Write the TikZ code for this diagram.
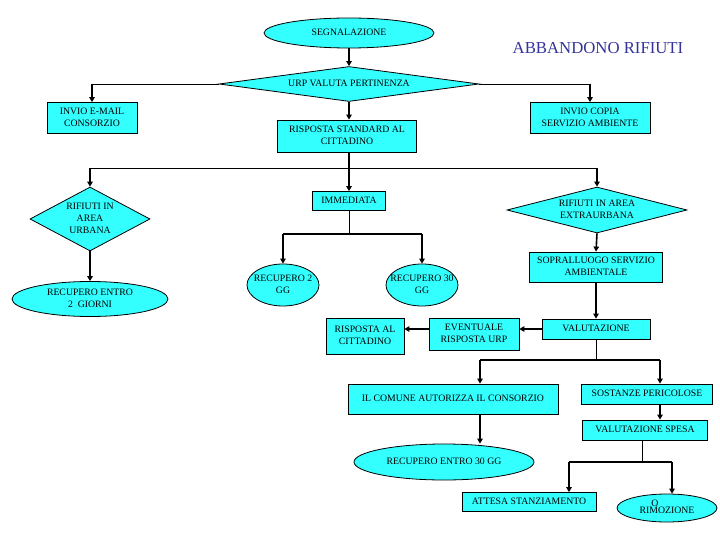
\documentclass[tikz,border=0pt]{standalone}
\usepackage{fontspec}
\setmainfont{Liberation Serif}
\usepackage{xcolor}
\usetikzlibrary{shapes,arrows.meta,positioning,calc}

\definecolor{boxcyan}{RGB}{51,255,255}
\definecolor{titleblue}{RGB}{51,51,153}
\newcommand{\rows}[1]{\makebox[0pt]{\begin{tabular}{@{}c@{}}#1\end{tabular}}}

\begin{document}
\begin{tikzpicture}[x=1bp,y=-1bp,
        box/.style={draw,line width=0.8bp,fill=boxcyan,rectangle,inner sep=0pt,
            font=\fontsize{9.8}{12}\selectfont},
        oval/.style={box,ellipse},
        choice/.style={box,diamond},
        link/.style={line width=0.8bp},
        bar/.style={line width=1.6bp},
        flow/.style={line width=1.6bp,-{Triangle[length=5bp,width=5.5bp]}}]

        \useasboundingbox (0,0) rectangle (720,540);

        %%top
        \node[oval,minimum width=170bp,minimum height=30bp] (seg) at (349,33){\rows{SEGNALAZIONE}};
        \node[text=titleblue,font=\fontsize{16.8}{20}\selectfont] (title) at (598,48){ABBANDONO RIFIUTI};
        \node[choice,minimum width=260bp,minimum height=35bp] (urp) at (349,84){\rows{URP VALUTA PERTINENZA}};
        \node[box,minimum width=90bp,minimum height=31bp] (mail) at (92,118){\rows{INVIO E-MAIL\\CONSORZIO}};
        \node[box,minimum width=120bp,minimum height=31bp] (copia) at (590,118){\rows{INVIO COPIA\\SERVIZIO AMBIENTE}};
        \node[box,minimum width=139bp,minimum height=32bp] (std) at (347,136){\rows{RISPOSTA STANDARD AL\\CITTADINO}};

            \draw[flow] (seg.south) -- (urp.north);
            \coordinate (ml) at (urp.west -| mail.north);
            \coordinate (mr) at (urp.east -| copia.north);
            \draw[link] (urp.west) -- (ml);
            \draw[flow] (ml) -- (mail.north);
            \draw[link] (urp.east) -- (mr);
            \draw[flow] (mr) -- (copia.north);
            \draw[flow] (urp.south) -- (urp.south |- std.north);

        %%middle
        \node[choice,minimum width=120bp,minimum height=64bp] (urbana) at (90,219){\rows{RIFIUTI IN\\AREA\\URBANA}};
        \node[oval,minimum width=156bp,minimum height=35bp] (rec2g) at (90,299){\rows{RECUPERO ENTRO\\2~ GIORNI}};
        \node[box,minimum width=73bp,minimum height=19bp] (imm) at (349,201){\rows{IMMEDIATA}};
        \node[oval,minimum width=72bp,minimum height=42bp] (r2) at (283,285){\rows{RECUPERO 2\\GG}};
        \node[oval,minimum width=72bp,minimum height=42bp] (r30) at (422,285){\rows{RECUPERO 30\\GG}};
        \node[choice,minimum width=180bp,minimum height=46bp] (extra) at (597,210){\rows{RIFIUTI IN AREA\\EXTRAURBANA}};
        \node[box,minimum width=133bp,minimum height=30bp] (sopr) at (596,267){\rows{SOPRALLUOGO SERVIZIO\\AMBIENTALE}};

            \coordinate (sp) at (349,168);
            \draw[bar] (std.south -| sp) -- (sp);
            \draw[link] (sp -| urbana.north) -- (sp -| extra.north);
            \draw[flow] (sp -| urbana.north) -- (urbana.north);
            \draw[flow] (sp) -- (imm.north);
            \draw[flow] (sp -| extra.north) -- (extra.north);
            \draw[flow] (urbana.south) -- (rec2g.north);
            \coordinate (sq) at (349,234);
            \draw[link] (imm.south) -- (sq);
            \draw[bar] (sq -| r2.north) -- (sq -| r30.north);
            \draw[flow] (sq -| r2.north) -- (r2.north);
            \draw[flow] (sq -| r30.north) -- (r30.north);
            \draw[flow] (extra.south) -- (sopr.north);

        %%valutazione
        \node[box,minimum width=108bp,minimum height=20bp] (val) at (596,329){\rows{VALUTAZIONE}};
        \node[box,minimum width=90bp,minimum height=32bp] (event) at (474,334){\rows{EVENTUALE\\RISPOSTA URP}};
        \node[box,minimum width=78bp,minimum height=36bp] (rcitt) at (365,336){\rows{RISPOSTA AL\\CITTADINO}};

            \draw[flow] (sopr.south) -- (val.north);
            \draw[flow] (val.west) -- (val.west -| event.east);
            \draw[flow] (event.west |- val.west) -- (val.west -| rcitt.east);

        %%bottom
        \node[box,minimum width=210bp,minimum height=30bp] (comune) at (453,399){\rows{IL COMUNE AUTORIZZA IL CONSORZIO}};
        \node[box,minimum width=131bp,minimum height=20bp] (sost) at (647,394){\rows{SOSTANZE PERICOLOSE}};
        \node[box,minimum width=125bp,minimum height=20bp] (spesa) at (645,430){\rows{VALUTAZIONE SPESA}};
        \node[oval,minimum width=180bp,minimum height=36bp] (rec30) at (444,462){\rows{RECUPERO ENTRO 30 GG}};
        \node[box,minimum width=134bp,minimum height=19bp] (attesa) at (529,502){\rows{ATTESA STANZIAMENTO}};
        \node[oval,minimum width=100bp,minimum height=28bp] (rim) at (667,508){\raisebox{-3.5bp}{\rows{\hspace*{-24bp}O\\[-5bp]RIMOZIONE}}};

            \coordinate (sv) at (596,360);
            \coordinate (cv) at (480,360);
            \coordinate (pv) at (660,360);
            \draw[link] (val.south) -- (sv);
            \draw[bar] (cv) -- (pv);
            \draw[flow] (cv) -- (cv |- comune.north);
            \draw[flow] (pv) -- (pv |- sost.north);
            \draw[flow] (sost.south -| pv) -- (spesa.north -| pv);
            \draw[flow] (comune.south -| cv) -- (rec30.north -| cv);
            \coordinate (ss) at (642,462);
            \coordinate (sa) at (569,462);
            \coordinate (sr) at (672,462);
            \draw[link] (spesa.south -| ss) -- (ss);
            \draw[bar] (sa) -- (sr);
            \draw[flow] (sa) -- (sa |- attesa.north);
            \draw[flow] (sr) -- (sr |- rim.north);
    \end{tikzpicture}
\end{document}
